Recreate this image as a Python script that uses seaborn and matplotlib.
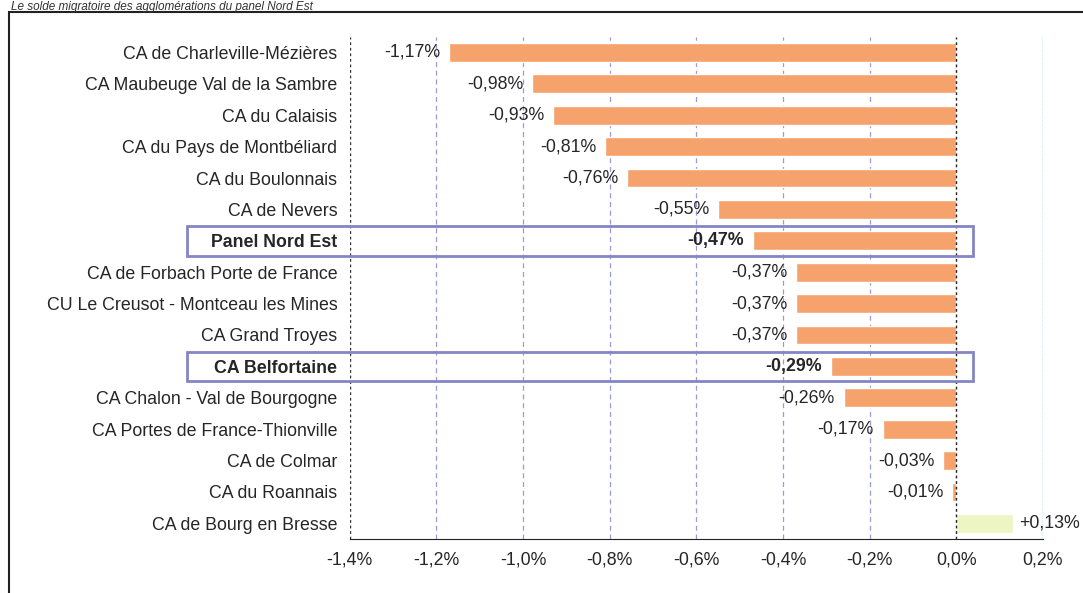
import matplotlib
matplotlib.use("Agg")
import matplotlib.pyplot as plt
import matplotlib.transforms as mtransforms
from matplotlib.patches import Rectangle
import pandas as pd
import seaborn as sns

# data
territoires = ["CA de Charleville-Mézières", "CA Maubeuge Val de la Sambre", "CA du Calaisis",
               "CA du Pays de Montbéliard", "CA du Boulonnais", "CA de Nevers", "Panel Nord Est",
               "CA de Forbach Porte de France", "CU Le Creusot - Montceau les Mines",
               "CA Grand Troyes", "CA Belfortaine", "CA Chalon - Val de Bourgogne",
               "CA Portes de France-Thionville", "CA de Colmar", "CA du Roannais",
               "CA de Bourg en Bresse"]
evolution = [-1.17, -0.98, -0.93, -0.81, -0.76, -0.55, -0.47, -0.37, -0.37, -0.37,
             -0.29, -0.26, -0.17, -0.03, -0.01, 0.13]
encadres = ["Panel Nord Est", "CA Belfortaine"]
xticks = [-1.4, -1.2, -1.0, -0.8, -0.6, -0.4, -0.2, 0.0, 0.2]

sns.set_style("white")
plt.rcParams['font.family'] = ['Liberation Sans', 'DejaVu Sans']
fs = 12.8

df = pd.DataFrame({"territoire": territoires, "evolution": evolution})
couleurs = ["#F5A26C" if v < 0 else "#EEF5C4" for v in evolution]

fig = plt.figure(figsize=(10.83, 5.93), dpi=100)
ax = fig.add_axes([0.323, 0.091, 0.64, 0.847])

sns.barplot(data=df, y="territoire", x="evolution", hue="territoire", palette=couleurs,
            orient="h", width=0.6, legend=False, ax=ax, saturation=1)

ax.set_xlim(-1.4, 0.2)
ax.set_ylim(len(territoires) - 0.5, -0.5)
ax.set_xticks(xticks)
ax.set_xticklabels([f"{t:.1f}%".replace(".", ",") for t in xticks], fontsize=fs)
ax.set_xlabel("")
ax.set_ylabel("")
ax.tick_params(axis="both", length=0, pad=9)

# libellés en gras pour les lignes encadrées
for lab in ax.get_yticklabels():
    lab.set_fontsize(fs)
    if lab.get_text() in encadres:
        lab.set_fontweight("bold")

# grille verticale
for t in xticks:
    if t == 0.0:
        ax.axvline(t, color="#222222", lw=1, ls=(0, (2, 2)), zorder=3)
    elif t == 0.2:
        ax.axvline(t, color="#5AB4E0", lw=1, ls=(0, (2, 1)), zorder=0)
    elif t == -1.4:
        ax.axvline(t, color="#333333", lw=1, ls=(0, (2, 2)), zorder=0)
    else:
        ax.axvline(t, color="#9A9AD8", lw=0.9, ls=(0, (4, 3)), zorder=0)

for s in ["top", "right", "left"]:
    ax.spines[s].set_visible(False)
ax.spines["bottom"].set_color("#222222")

# étiquettes de valeurs
for i, v in enumerate(evolution):
    txt = f"{v:+.2f}%".replace(".", ",") if v > 0 else f"{v:.2f}%".replace(".", ",")
    bold = "bold" if territoires[i] in encadres else "normal"
    if v < 0:
        ax.text(v - 0.02, i, txt, ha="right", va="center", fontsize=fs, fontweight=bold)
    else:
        ax.text(v + 0.015, i, txt, ha="left", va="center", fontsize=fs, fontweight=bold)

# cadres autour des lignes mises en avant
trans = mtransforms.blended_transform_factory(fig.transFigure, ax.transData)
for nom in encadres:
    i = territoires.index(nom)
    ax.add_patch(Rectangle((0.1727, i - 0.47), 0.7257, 0.94, transform=trans,
                           fill=False, edgecolor="#8585C5", lw=2, clip_on=False, zorder=5))

# cadre général et titre
fig.patches.append(Rectangle((0.008, -0.05), 1.1, 1.03, transform=fig.transFigure,
                             fill=False, edgecolor="#222222", lw=1.5))
fig.text(0.01, 0.999, "Le solde migratoire des agglomérations du panel Nord Est",
         fontsize=8.5, style="italic", va="top", ha="left", color="#333333")

fig.savefig("out.png", dpi=100)
